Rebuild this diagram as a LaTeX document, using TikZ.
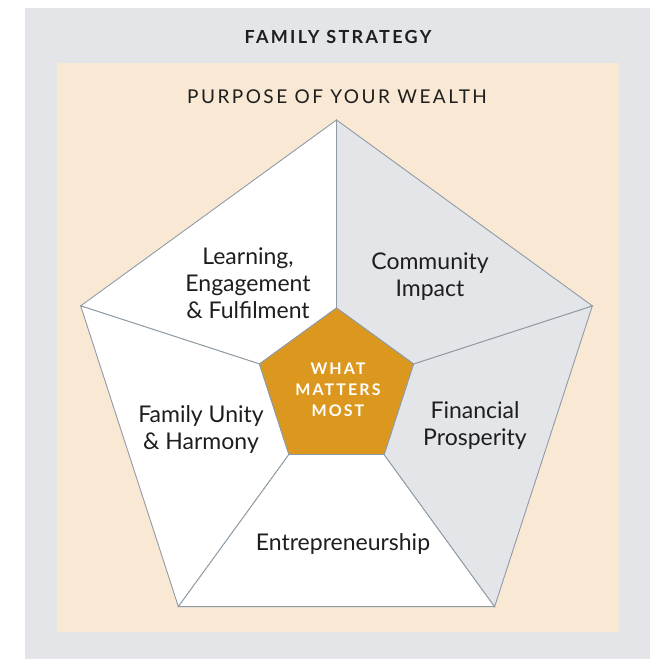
\documentclass[tikz,border=0pt]{standalone}
\usepackage{fontspec}
\setmainfont{Lato}
\newfontfamily\spacedfont[LetterSpace=13]{Lato}
\usetikzlibrary{positioning}
\definecolor{wealthgray}{RGB}{228, 229, 233}
\definecolor{wealthbeige}{RGB}{249, 232, 212}
\definecolor{wealthorange}{RGB}{220, 152, 30}
\definecolor{wealthline}{RGB}{143, 156, 166}
\definecolor{wealthtext}{RGB}{30, 30, 30}

\begin{document}
\begin{tikzpicture}[
    x=1pt, y=1pt,
    sector/.style={
        draw=wealthline,
        line width=0.9pt,
        line join=miter
    },
    core/.style={
        draw=wealthline,
        line width=0.9pt,
        fill=wealthorange
    },
    label/.style={
        font=\fontsize{23}{27}\selectfont,
        text=wealthtext,
        align=center
    },
    title/.style={
        font=\spacedfont\bfseries\fontsize{18}{20}\selectfont,
        text=wealthtext
    },
    subtitle/.style={
        font=\spacedfont\fontsize{19}{21}\selectfont,
        text=wealthtext
    },
    corelabel/.style={
        font=\spacedfont\bfseries\fontsize{16}{21}\selectfont,
        text=white,
        align=center
    }
]

% Background rectangle
\useasboundingbox (0,0) rectangle (666,659);
\fill[wealthgray] (25,0) rectangle (650,651);
\fill[wealthbeige] (57,27) rectangle (619,596);

% Title
\node[title] (strategy) at (338,622) {FAMILY STRATEGY};
\node[subtitle] (purpose) at (337,562) {PURPOSE OF YOUR WEALTH};

% Pentagon
\begin{scope}[shift={(336.5,270)}]
\foreach \i in {0,...,4} {
    \coordinate (outer\i) at (90+72*\i:269);
    \coordinate (inner\i) at (90+72*\i:81);
}
\foreach \i/\j/\col in {0/1/white, 1/2/white, 2/3/white, 3/4/wealthgray, 4/0/wealthgray} {
    \filldraw[sector, fill=\col] (inner\i) -- (outer\i) -- (outer\j) -- (inner\j) -- cycle;
}
\draw[core] (inner0) -- (inner1) -- (inner2) -- (inner3) -- (inner4) -- cycle;
\end{scope}

% Labels
\node[corelabel] (core) at (338,269) {WHAT\\MATTERS\\MOST};
\node[label] (learning) at (248,376) {Learning,\\Engagement\\\& Fulfilment};
\node[label] (community) at (430,382) {Community\\Impact};
\node[label] (family) at (201,229) {Family Unity\\\& Harmony};
\node[label] (financial) at (475,233) {Financial\\Prosperity};
\node[label] (business) at (343,115) {Entrepreneurship};

\end{tikzpicture}
\end{document}
